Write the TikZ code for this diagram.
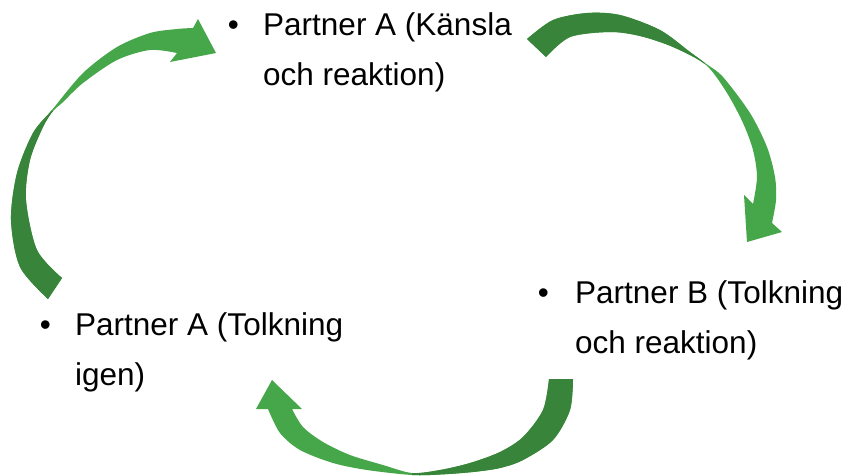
\documentclass[tikz,border=0pt]{standalone}
\usepackage{fontspec}
\setmainfont{Liberation Sans}
\definecolor{dkgreen}{HTML}{37843A}
\definecolor{ltgreen}{HTML}{46A64A}
\tikzset{
  txt/.style={inner sep=0pt, anchor=base west, font=\fontsize{31.5}{36}\selectfont, text=black},
  bul/.style={inner sep=0pt, anchor=base east, font=\fontsize{31.5}{36}\selectfont, text=black},
  headpart/.style={fill=ltgreen},
  tailpart/.style={fill=dkgreen}
}
\def\arrowApath{plot[smooth] coordinates {(48,299) (20,267) (11,220) (17,173) (33,133) (52,110) (83,73) (117,47) (150,33) (177,29) (193,28)}
  -- (198,19) -- (216,53) -- (170,62) -- (177,53)
  -- plot[smooth] coordinates {(177,53) (150,50) (117,60) (83,83) (62,103) (53,111) (43,127) (30,160) (26,200) (37,250) (62,278)} -- cycle}
\def\arrowBpath{plot[smooth] coordinates {(527,39) (553,20) (587,13) (620,15) (660,30) (690,52) (705,63) (723,77) (750,113) (767,147) (775,177) (776,200) (772,223)}
  -- (782,232) -- (747,242) -- (744,195) -- (753,204)
  -- plot[smooth] coordinates {(753,204) (757,177) (753,150) (743,123) (727,93) (706,65) (673,47) (640,36) (610,32) (570,37) (546,57)} -- cycle}
\def\arrowCpath{plot[smooth] coordinates {(573,379) (570,410) (553,440) (523,460) (500,468) (473,472) (440,474.5) (412,475) (367,470) (333,463) (300,450) (280,433) (268,409)}
  -- (256,409) -- (272,380) -- (302,409) -- (292,409)
  -- plot[smooth] coordinates {(292,409) (303,427) (323,442) (350,455) (383,465) (412,473) (440,470) (470,463) (500,452) (523,437) (543,410) (549,379)} -- cycle}
\begin{document}
\begin{tikzpicture}[x=1pt,y=-1pt]
\useasboundingbox (0,0) rectangle (849,475);
% Arrow 1 (left, up to Partner A)
\fill[headpart] \arrowApath;
\begin{scope}
  \clip \arrowApath;
  \fill[tailpart] (0,67) -- (120,167) -- (120,320) -- (0,320) -- cycle;
\end{scope}
% Arrow 2 (top right, down to Partner B)
\fill[headpart] \arrowBpath;
\begin{scope}
  \clip \arrowBpath;
  \fill[tailpart] (742,13) -- (742,0) -- (500,0) -- (500,123) -- (660,123) -- cycle;
\end{scope}
% Arrow 3 (bottom, left to Partner A)
\fill[headpart] \arrowCpath;
\begin{scope}
  \clip \arrowCpath;
  \fill[tailpart] (412,350) -- (600,350) -- (600,480) -- (412,480) -- cycle;
\end{scope}
% Texts
\node[bul] (bA) at (239,35) {\textbullet};
\node[txt] (pA1) at (263,35) {Partner A (Känsla};
\node[txt] (pA2) at (263,85) {och reaktion)};
\node[bul] (bB) at (549,303) {\textbullet};
\node[txt] (pB1) at (575,303) {Partner B (Tolkning};
\node[txt] (pB2) at (575,353) {och reaktion)};
\node[bul] (bC) at (51,335) {\textbullet};
\node[txt] (pC1) at (75,335) {Partner A (Tolkning};
\node[txt] (pC2) at (75,385) {igen)};
\end{tikzpicture}
\end{document}
